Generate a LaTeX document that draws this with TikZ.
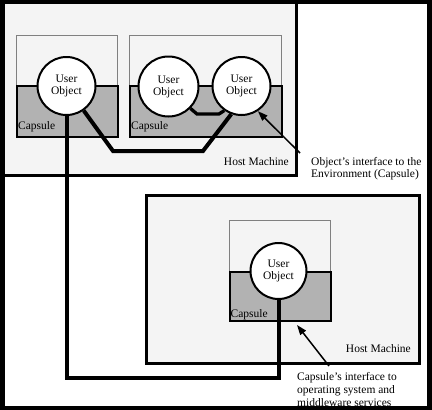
\documentclass[tikz,border=0pt]{standalone}
\usepackage{fontspec}
\setmainfont{Liberation Serif}
\usetikzlibrary{arrows.meta,calc}
\definecolor{hostfill}{HTML}{F4F4F4}
\definecolor{capdark}{HTML}{B2B2B2}
\definecolor{capline}{HTML}{808080}
\pgfdeclarelayer{back}
\pgfdeclarelayer{mid}
\pgfsetlayers{back,mid,main}
\begin{document}
\begin{tikzpicture}[x=1pt,y=-1pt,
  host/.style={draw=black,fill=hostfill,line width=3pt,anchor=north west,inner sep=0pt},
  capup/.style={draw=capline,fill=hostfill,line width=1pt,anchor=north west,inner sep=0pt},
  caplow/.style={draw=black,fill=capdark,line width=2pt,anchor=north west,inner sep=0pt},
  obj/.style={circle,draw=black,fill=white,line width=2pt,inner sep=0pt,minimum size=58pt,align=center,font=\fontsize{11.5}{12}\selectfont},
  lbl/.style={inner sep=0pt,font=\fontsize{11.5}{12}\selectfont},
  wire/.style={line width=4pt,line join=miter},
  pointer/.style={line width=1.5pt,-{Triangle[length=10pt,width=7pt]}}
]
\useasboundingbox (0,0) rectangle (432,410);

\begin{pgfonlayer}{back}
\fill[white] (0,0) rectangle (432,410);
% host machines
\node[host,minimum width=294pt,minimum height=172.5pt] (host1) at (1,1) {};
\node[host,minimum width=273pt,minimum height=168pt] (host2) at (144.5,193.5) {};
% capsules
\node[capup,minimum width=101pt,minimum height=50.5pt] (cap1u) at (16,34.5) {};
\node[caplow,minimum width=101pt,minimum height=51pt] (cap1l) at (16,85) {};
\node[capup,minimum width=152pt,minimum height=50.5pt] (cap2u) at (129,34.5) {};
\node[caplow,minimum width=152pt,minimum height=51pt] (cap2l) at (129,85) {};
\node[capup,minimum width=101pt,minimum height=51.5pt] (cap3u) at (229,219.5) {};
\node[caplow,minimum width=101pt,minimum height=49pt] (cap3l) at (229,271) {};
\end{pgfonlayer}

% user objects
\node[obj] (c1) at (66.5,86) {User\\Object};
\node[obj,minimum size=60pt] (c2) at (168.5,86.5) {User\\Object};
\node[obj] (c3) at (241.5,86) {User\\Object};
\node[obj,minimum size=56pt] (c4) at (278.5,271) {User\\Object};

% connectors
\coordinate (bend) at (0,377.5);
\begin{pgfonlayer}{mid}
\draw[wire] (c1.-55) -- (113,151) -- (203,151) -- (c3.-110);
\draw[wire,line width=3.3pt] (c2.-45) -- (197,114) -- (219,114) -- (c3.-125);
\draw[wire] (c1.south) -- (c1.south |- bend) -- (c4.south |- bend) -- (c4.south);
\end{pgfonlayer}

% labels
\node[lbl,anchor=base west] (cl1) at (18,129) {Capsule};
\node[lbl,anchor=base west] (cl2) at (131,129) {Capsule};
\node[lbl,anchor=base west] (cl3) at (230.5,317) {Capsule};
\node[lbl,anchor=base east] (hm1) at (289,165.5) {Host Machine};
\node[lbl,anchor=base east] (hm2) at (411,352) {Host Machine};
\node[lbl,anchor=north west,align=left] (ol) at (311,157.3) {Object's interface to the\\Environment (Capsule)};
\node[lbl,anchor=north west,align=left,font=\fontsize{11.5}{12.6}\selectfont] (cil) at (297,372.5) {Capsule's interface to\\operating system and\\middleware services};

% pointers
\coordinate (p1) at (300,153);
\coordinate (p2) at (329,366);
\draw[pointer] (p1) -- (c3.-57);
\draw[pointer] (p2) -- ($(cap3l.south)+(16.5,3)$);

% outer frame
\draw[line width=4.5pt] (2.5,2) rectangle (429.5,408);
\end{tikzpicture}
\end{document}
